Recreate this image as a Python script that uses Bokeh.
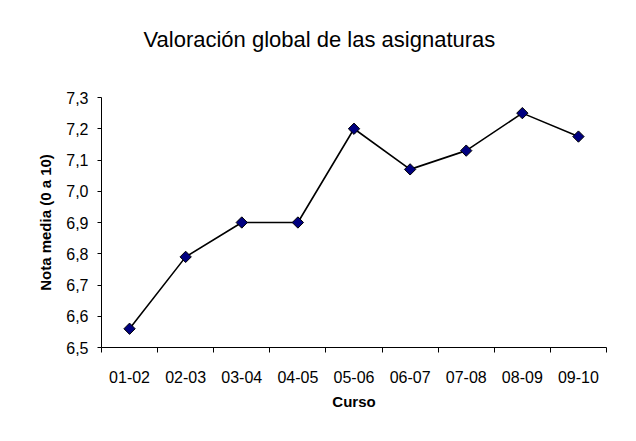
from bokeh.plotting import figure
from bokeh.embed import file_html
from bokeh.resources import INLINE
from bokeh.models import FixedTicker, Title

# ---- data ----
cursos = ["01-02", "02-03", "03-04", "04-05", "05-06", "06-07", "07-08", "08-09", "09-10"]
nota_media = [6.56, 6.79, 6.90, 6.90, 7.20, 7.07, 7.13, 7.25, 7.175]
y_ticks = [6.5, 6.6, 6.7, 6.8, 6.9, 7.0, 7.1, 7.2, 7.3]
y_tick_labels = ["6,5", "6,6", "6,7", "6,8", "6,9", "7,0", "7,1", "7,2", "7,3"]
titulo = "Valoración global de las asignaturas"
eje_x = "Curso"
eje_y = "Nota media (0 a 10)"

FONT = "Liberation Sans"

n = len(cursos)
x_centers = [i + 0.5 for i in range(n)]
x_bounds = [float(i) for i in range(n + 1)]

p = figure(width=630, height=435, x_range=(0, n), y_range=(y_ticks[0], y_ticks[-1]),
           output_backend="svg", toolbar_location=None,
           min_border_left=101, min_border_right=24, min_border_top=97, min_border_bottom=88)

p.background_fill_color = "white"
p.border_fill_color = "white"
p.outline_line_color = None
p.grid.visible = False

# spacer between frame and title
p.add_layout(Title(text=" ", text_font_size="1px", standoff=38), "above")

# title
p.title.text = titulo
p.title.align = "left"
p.title.offset = 42
p.title.standoff = 10
p.title.text_font = FONT
p.title.text_font_size = "22px"
p.title.text_font_style = "normal"
p.title.text_color = "black"

# x axis
xa = p.xaxis[0]
xa.ticker = FixedTicker(ticks=x_centers, minor_ticks=x_bounds)
xa.major_label_overrides = {x: c for x, c in zip(x_centers, cursos)}
xa.major_tick_out = 0
xa.major_tick_in = 0
xa.major_tick_line_color = None
xa.minor_tick_out = 5
xa.minor_tick_in = 0
xa.minor_tick_line_color = "black"
xa.axis_line_color = "black"
xa.major_label_text_font = FONT
xa.major_label_text_font_size = "16px"
xa.major_label_text_color = "black"
xa.major_label_standoff = 18
xa.axis_label = eje_x
xa.axis_label_text_font = FONT
xa.axis_label_text_font_size = "15px"
xa.axis_label_text_font_style = "bold"
xa.axis_label_text_color = "black"
xa.axis_label_standoff = 7

# y axis
ya = p.yaxis[0]
ya.ticker = FixedTicker(ticks=y_ticks)
ya.major_label_overrides = {t: l for t, l in zip(y_ticks, y_tick_labels)}
ya.major_tick_out = 4
ya.major_tick_in = 0
ya.minor_tick_line_color = None
ya.axis_line_color = "black"
ya.major_tick_line_color = "black"
ya.major_label_text_font = FONT
ya.major_label_text_font_size = "16px"
ya.major_label_text_color = "black"
ya.major_label_standoff = 9
ya.axis_label = eje_y
ya.axis_label_text_font = FONT
ya.axis_label_text_font_size = "15px"
ya.axis_label_text_font_style = "bold"
ya.axis_label_text_color = "black"
ya.axis_label_standoff = 9

p.line(x_centers, nota_media, line_color="black", line_width=1.6)
p.scatter(x_centers, nota_media, marker="square", angle=0.7853981634, size=8,
          fill_color="#000080", line_color="black", line_width=1)

open("out.html", "w").write(file_html(p, INLINE))
